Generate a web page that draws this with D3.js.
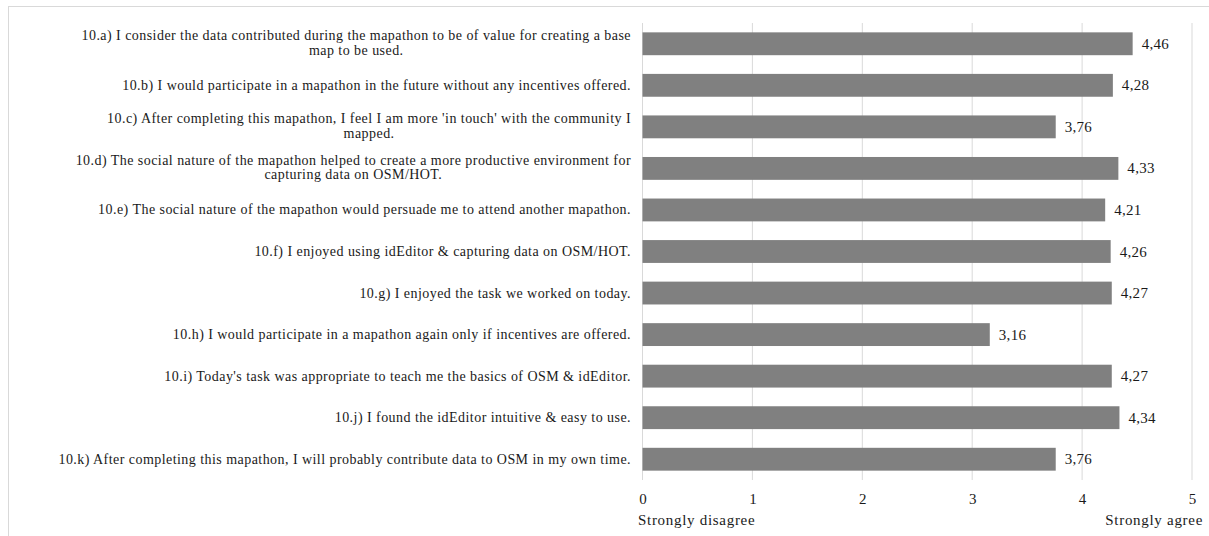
<!DOCTYPE html>
<html><head><meta charset="utf-8">
<script src="https://cdn.jsdelivr.net/npm/d3@7"></script>
<style>
html,body{margin:0;padding:0;background:#fff;}
svg{display:block;}
text{font-family:"Liberation Serif","Times New Roman",serif;fill:#1a1a1a;}
</style></head>
<body><svg id="c" width="1209" height="536"></svg>
<script>
const categories = [
  "10.a) I consider the data contributed during the mapathon to be of value for creating a base\nmap to be used.",
  "10.b) I would participate in a mapathon in the future without any incentives offered.",
  "10.c) After completing this mapathon, I feel I am more 'in touch' with the community I\nmapped.",
  "10.d) The social nature of the mapathon helped to create a more productive environment for\ncapturing data on OSM/HOT.",
  "10.e) The social nature of the mapathon would persuade me to attend another mapathon.",
  "10.f) I enjoyed using idEditor & capturing data on OSM/HOT.",
  "10.g) I enjoyed the task we worked on today.",
  "10.h) I would participate in a mapathon again only if incentives are offered.",
  "10.i) Today's task was appropriate to teach me the basics of OSM & idEditor.",
  "10.j) I found the idEditor intuitive & easy to use.",
  "10.k) After completing this mapathon, I will probably contribute data to OSM in my own time."
];
const values = [4.46, 4.28, 3.76, 4.33, 4.21, 4.26, 4.27, 3.16, 4.27, 4.34, 3.76];
const tickValues = [0, 1, 2, 3, 4, 5];
const axisEndLabels = ["Strongly disagree", "Strongly agree"];

const FS = 14, LS = 0.45;
const svg = d3.select("#c");
svg.append("rect").attr("x", 8.5).attr("y", 6.5).attr("width", 1220).attr("height", 560)
  .attr("fill", "none").attr("stroke", "#d9d9d9");

const x = d3.scaleLinear().domain([0, 5]).range([642.5, 1192]);
const y = d3.scaleBand().domain(categories).range([23, 480]).paddingInner(0.45).paddingOuter(0.225);

// gridlines
svg.append("g").selectAll("line").data(tickValues).join("line")
  .attr("x1", d => x(d)).attr("x2", d => x(d)).attr("y1", 23).attr("y2", 480)
  .attr("stroke", "#d9d9d9").attr("stroke-width", 1);

// bars
svg.append("g").selectAll("rect").data(values).join("rect")
  .attr("x", x(0)).attr("y", (d, i) => y(categories[i]))
  .attr("width", d => x(d) - x(0)).attr("height", y.bandwidth())
  .attr("fill", "#808080");

const fmt = v => d3.format(".2f")(v).replace(".", ",");
// value labels
svg.append("g").selectAll("text").data(values).join("text")
  .attr("x", d => x(d) + 9).attr("y", (d, i) => y(categories[i]) + y.bandwidth() / 2 + 5)
  .attr("font-size", 15).attr("letter-spacing", 0.3).text(d => fmt(d));

// category labels
const labelRight = 631;
const lg = svg.append("g");
categories.forEach((c, i) => {
  const lines = c.split("\n");
  const cy = y(c) + y.bandwidth() / 2;
  if (lines.length === 1) {
    lg.append("text").attr("x", labelRight).attr("y", cy + 4.5)
      .attr("text-anchor", "end").attr("font-size", FS).attr("letter-spacing", LS).text(lines[0]);
  } else {
    const t0 = lg.append("text").attr("font-size", FS).attr("letter-spacing", LS).text(lines[0]);
    const w = t0.node().getComputedTextLength();
    const cx = labelRight - w / 2;
    t0.attr("x", cx).attr("text-anchor", "middle").attr("y", cy - 3.5);
    lg.append("text").attr("font-size", FS).attr("letter-spacing", LS).attr("x", cx).attr("text-anchor", "middle")
      .attr("y", cy + 11).text(lines[1]);
  }
});

// x axis tick labels
const axis = d3.axisBottom(x).tickValues(tickValues).tickSize(0).tickPadding(0).tickFormat(d3.format("d"));
const ag = svg.append("g").attr("transform", "translate(0,492)").call(axis);
ag.select(".domain").remove();
ag.selectAll("text").attr("dy", null).attr("y", 12).attr("font-size", 15)
  .attr("font-family", "Liberation Serif").attr("fill", "#1a1a1a");

svg.append("text").attr("x", 638).attr("y", 525).attr("font-size", 15).attr("letter-spacing", 0.7).text(axisEndLabels[0]);
svg.append("text").attr("x", 1203).attr("y", 525).attr("text-anchor", "end").attr("font-size", 15).attr("letter-spacing", 0.7).text(axisEndLabels[1]);
</script></body></html>
